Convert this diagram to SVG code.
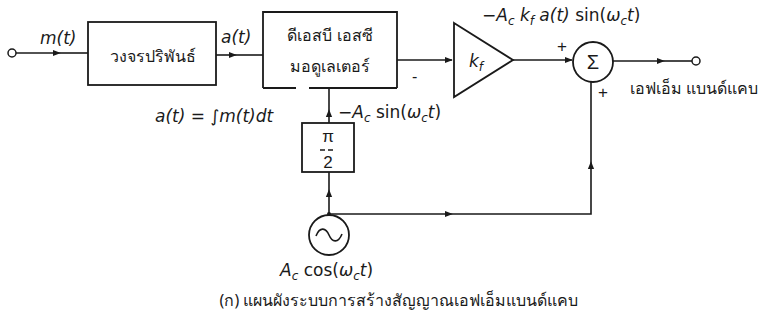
<svg xmlns="http://www.w3.org/2000/svg" width="773" height="320" viewBox="0 0 773 320">
<style>
.ln{fill:none;stroke:#1a1a1a;stroke-width:1.6}
.bx{fill:none;stroke:#1a1a1a;stroke-width:1.8}
.th{font-family:"Noto Sans","DejaVu Sans",sans-serif;fill:#1a1a1a}
.m{font-family:"DejaVu Sans",sans-serif;font-style:italic;fill:#1a1a1a;font-size:17px}
.u{font-style:normal}
.s{font-size:12px}
.r{font-family:"Liberation Sans",sans-serif;fill:#1a1a1a}
</style>
<defs>
<marker id="ar" viewBox="0 0 10 10" refX="9" refY="5" markerWidth="8" markerHeight="8" orient="auto" markerUnits="userSpaceOnUse">
<path d="M0,1 L10,5 L0,9 Z" fill="#1a1a1a"/>
</marker>
</defs>
<rect width="773" height="320" fill="#ffffff"/>

<g id="connectors">
<path class="ln" d="M16,53 H60" marker-end="url(#ar)"/>
<path class="ln" d="M60,53 H88"/>
<path class="ln" d="M216,55 H236" marker-end="url(#ar)"/>
<path class="ln" d="M236,55 H263"/>
<path class="ln" d="M397,60 H452" marker-end="url(#ar)"/>
<path class="ln" d="M513,60 H572" marker-end="url(#ar)"/>
<path class="ln" d="M613,61 H664" marker-end="url(#ar)"/>
<path class="ln" d="M664,61 H692"/>
<path class="ln" d="M329,123 V110" marker-end="url(#ar)"/>
<path class="ln" d="M329,110 V88"/>
<path class="ln" d="M329,214 V190" marker-end="url(#ar)"/>
<path class="ln" d="M329,190 V172"/>
<path class="ln" d="M329,214 H452" marker-end="url(#ar)"/>
<path class="ln" d="M452,214 H591 V162" marker-end="url(#ar)"/>
<path class="ln" d="M591,162 V82"/>
<circle cx="329" cy="214" r="2" fill="#1a1a1a"/>
</g>

<g id="input">
<circle cx="12" cy="53" r="4" fill="#fff" stroke="#1a1a1a" stroke-width="1.5"/>
<text class="m" x="40" y="44">m(t)</text>
</g>

<g id="integrator">
<rect class="bx" x="88" y="22" width="128" height="63"/>
<text class="th" x="153" y="62" font-size="16" text-anchor="middle">วงจรปริพันธ์</text>
</g>

<g id="a-label">
<text class="m" x="221" y="43">a(t)</text>
<text class="m" x="155" y="122">a(t) = ∫m(t)dt</text>
</g>

<g id="dsb">
<path class="bx" d="M263,88 V12 H397 V88 M263,88 H296 M309,88 H397"/>
<text class="th" x="330" y="41" font-size="16" text-anchor="middle">ดีเอสบี เอสซี</text>
<text class="th" x="330" y="72" font-size="16" text-anchor="middle">มอดูเลเตอร์</text>
<text class="r" x="412" y="82" font-size="16">-</text>
</g>

<g id="gain">
<polygon class="bx" points="454,23 513,60 454,97"/>
<text class="m" x="469" y="67">k<tspan class="s" dy="4">f</tspan></text>
<text class="m" x="482" y="21">−A<tspan class="s" dy="4">c</tspan><tspan dy="-4"> k</tspan><tspan class="s" dy="4">f</tspan><tspan dy="-4"> a(t) </tspan><tspan class="u">sin(</tspan>ω<tspan class="s" dy="4">c</tspan><tspan dy="-4">t</tspan><tspan class="u">)</tspan></text>
</g>

<g id="sum">
<circle cx="593" cy="62" r="20" fill="none" stroke="#1a1a1a" stroke-width="1.8"/>
<text class="r" x="593" y="69" font-size="20" text-anchor="middle">Σ</text>
<text class="r" x="557" y="52" font-size="17">+</text>
<text class="r" x="598" y="98" font-size="17">+</text>
</g>

<g id="output">
<circle cx="696" cy="61" r="4" fill="#fff" stroke="#1a1a1a" stroke-width="1.5"/>
<text class="th" x="630" y="94" font-size="16">เอฟเอ็ม แบนด์แคบ</text>
</g>

<g id="phase">
<rect class="bx" x="302" y="123" width="52" height="49"/>
<text class="r" x="328" y="142" font-size="17" text-anchor="middle">π</text>
<path d="M320,150 H336" stroke="#1a1a1a" stroke-width="1.4" stroke-dasharray="5,3"/>
<text class="r" x="328" y="168" font-size="17" text-anchor="middle">2</text>
<text class="m" x="338" y="118">−A<tspan class="s" dy="4">c</tspan><tspan dy="-4" class="u"> sin(</tspan>ω<tspan class="s" dy="4">c</tspan><tspan dy="-4">t</tspan><tspan class="u">)</tspan></text>
</g>

<g id="oscillator">
<circle cx="329" cy="235" r="20" fill="none" stroke="#1a1a1a" stroke-width="1.8"/>
<path class="ln" d="M316,236 C320,226 326,228 329,235 C332,242 338,244 342,234"/>
<text class="m" x="280" y="276">A<tspan class="s" dy="4">c</tspan><tspan dy="-4" class="u"> cos(</tspan>ω<tspan class="s" dy="4">c</tspan><tspan dy="-4">t</tspan><tspan class="u">)</tspan></text>
</g>

<text class="th" x="399" y="306" font-size="16" text-anchor="middle">(ก) แผนผังระบบการสร้างสัญญาณเอฟเอ็มแบนด์แคบ</text>
</svg>
